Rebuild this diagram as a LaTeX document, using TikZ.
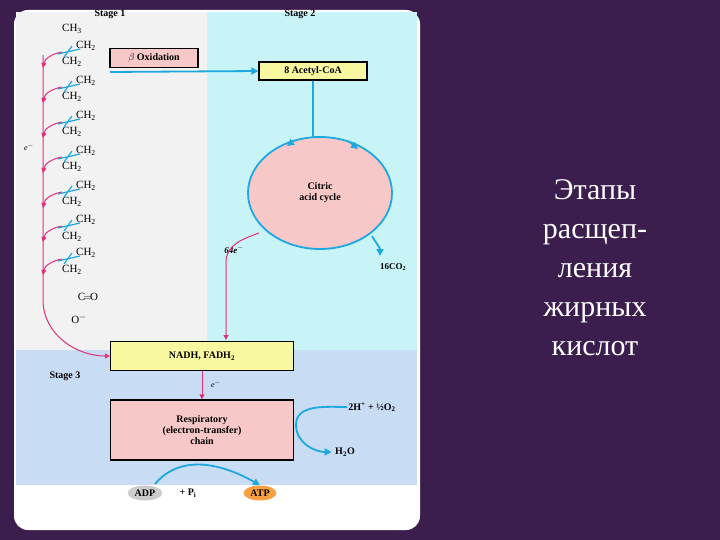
\documentclass[tikz,border=0pt]{standalone}
\usepackage{fontspec}
\setmainfont{Liberation Serif}
\usetikzlibrary{arrows.meta,shapes.geometric}
\definecolor{bgp}{HTML}{3B1D4E}
\definecolor{gr}{HTML}{F2F2F2}
\definecolor{cy}{HTML}{C8F4F8}
\definecolor{lb}{HTML}{C8DCF4}
\definecolor{pk}{HTML}{F8C8C8}
\definecolor{yl}{HTML}{F8F8A0}
\definecolor{bl}{HTML}{1EA8E0}
\definecolor{mg}{HTML}{E0307A}
\definecolor{og}{HTML}{F8A040}
\tikzset{
 lbl/.style={font=\bfseries\fontsize{10}{11}\selectfont},
 ch/.style={font=\fontsize{11}{11}\selectfont,inner sep=0pt},
 boxy/.style={draw,line width=1.3pt,fill=yl,font=\bfseries\fontsize{10}{11}\selectfont,inner sep=0pt},
 boxp/.style={draw,line width=1.3pt,fill=pk,font=\bfseries\fontsize{10}{11}\selectfont,inner sep=0pt,align=center},
 ba/.style={draw=bl,line width=1.8pt,-{Triangle[length=7pt,width=7pt]}},
 ma/.style={draw=mg,line width=1pt,-{Triangle[length=5pt,width=5pt]}},
 cut/.style={draw=bl,line width=1.2pt},
 ru/.style={font=\fontsize{30}{39}\selectfont,text=white,align=center}
}
\begin{document}
\begin{tikzpicture}[x=1pt,y=-1pt]
\useasboundingbox (0,0) rectangle (720,540);
\fill[bgp] (0,0) rectangle (720,540);
\fill[white,rounded corners=14pt] (14,10) rectangle (420,530);
\fill[gr] (16,12) rectangle (207,350);
\fill[cy] (207,12) rectangle (417,350);
\fill[lb] (16,350) rectangle (417,485);
\node[lbl] (s1) at (110,14) {Stage 1};
\node[lbl] (s2) at (300,14) {Stage 2};
\node[lbl] (s3) at (65,376) {Stage 3};
% chain
\node[ch] (c0) at (72,29) {CH\textsubscript{3}};
\foreach \i/\yr/\yl in {1/46/62,2/81/97,3/116/132,4/151/167,5/186/202,6/220/237,7/253/270}{
 \node[ch] (r\i) at (86,\yr) {CH\textsubscript{2}};
 \node[ch] (l\i) at (72,\yl) {CH\textsubscript{2}};
 \draw[cut] (58,\yr+8) -- (80,\yr+3);
 \draw[cut] (64,\yr+11) -- (72,\yr);
 \draw[ma] (62,\yr+6) to[out=190,in=80] (43,\yr+22);
}
\node[ch] (co) at (88,297) {C$\!=\!$O};
\node[ch] (om) at (79,319) {O\textsuperscript{$-$}};
\node[font=\itshape\fontsize{8}{8}\selectfont] (e1) at (29,147) {e\textsuperscript{$-$}};
% boxes
\node[boxp,minimum width=88pt,minimum height=19pt] (beta) at (154,58) {$\beta$ Oxidation};
\node[boxy,minimum width=108pt,minimum height=18pt] (acoa) at (313,71) {8 Acetyl-CoA};
\node[boxy,minimum width=183pt,minimum height=29pt] (nadh) at (202,356) {NADH, FADH\textsubscript{2}};
\node[boxp,minimum width=183pt,minimum height=60pt] (resp) at (202,430) {Respiratory\\(electron-transfer)\\chain};
\draw[line width=1.8pt,draw=bl,fill=pk] (320,193) ellipse (72pt and 56pt);
\node[lbl,align=center] (cac) at (320,193) {Citric\\acid cycle};
\coordinate (cyt) at (313,137);
\draw[-{Triangle[length=7pt]},bl,line width=1.2pt] (295,140) -- (287,146);
\draw[-{Triangle[length=7pt]},bl,line width=1.2pt] (348,141) -- (358,149);
% arrows
\draw[ba] (110,72) -- (acoa.west);
\draw[draw=bl,line width=1.8pt] (acoa.south) -- (cyt);
\node[font=\bfseries\fontsize{9}{10}\selectfont] (co2) at (393,267) {16CO\textsubscript{2}};
\draw[ba] (372,236) to[out=-60,in=90] (380,256);
\node[font=\bfseries\itshape\fontsize{9}{10}\selectfont] (e64) at (234,250) {64e\textsuperscript{$-$}};
\draw[ma] (259,233) to[out=200,in=90] (226,262) -- (226,340);
\draw[ma] (43,55) -- (43,300) to[out=-90,in=180] (nadh.west);
\node[font=\itshape\fontsize{8}{8}\selectfont] (e2) at (216,384) {e\textsuperscript{$-$}};
\draw[ma] (nadh.south) -- (resp.north);
\node[font=\bfseries\fontsize{10}{11}\selectfont,inner sep=1pt] (h2) at (372,407) {2H\textsuperscript{+} + ½O\textsubscript{2}};
\node[font=\bfseries\fontsize{10}{11}\selectfont] (h2o) at (345,452) {H\textsubscript{2}O};
\draw[ba] (h2.west) to[out=180,in=90] (296,425) to[out=-90,in=180] (h2o.west);
\node[ellipse,fill=gray!40,inner sep=2pt,font=\bfseries\fontsize{10}{11}\selectfont] (adp) at (145,493) {ADP};
\node[font=\bfseries\fontsize{10}{11}\selectfont] (pi) at (188,493) {+ P\textsubscript{i}};
\node[ellipse,fill=og,inner sep=2pt,font=\bfseries\fontsize{10}{11}\selectfont] (atp) at (260,493) {ATP};
\draw[ba] (155,484) to[out=50,in=150] (atp.north);
% right text
\node[ru] (t) at (595,268) {Этапы\\расщеп-\\ления\\жирных\\кислот};
\end{tikzpicture}
\end{document}
